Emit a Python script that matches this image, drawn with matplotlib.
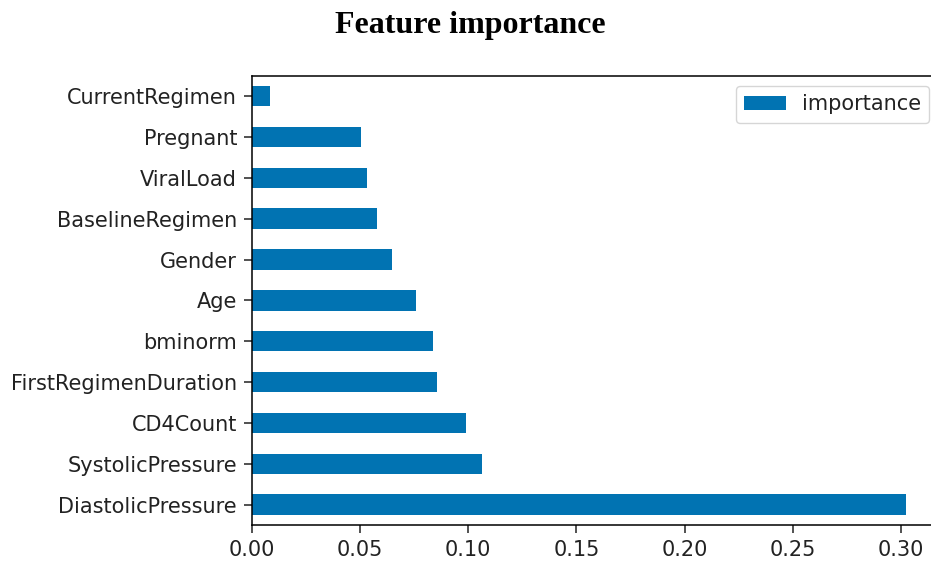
import numpy as np
import pandas as pd
import matplotlib
matplotlib.use('Agg')
import matplotlib.pyplot as plt

features = ['DiastolicPressure', 'SystolicPressure', 'CD4Count', 'FirstRegimenDuration',
            'bminorm', 'Age', 'Gender', 'BaselineRegimen', 'ViralLoad', 'Pregnant',
            'CurrentRegimen']
importance = [0.3024, 0.1066, 0.0989, 0.0857, 0.0837, 0.0761, 0.0647, 0.0581,
              0.0533, 0.0505, 0.0086]

df = pd.DataFrame({'importance': importance}, index=features)

s = 15.0  # font size in pt
plt.rcParams.update({
    'font.size': s,
    'axes.linewidth': 1.1,
    'xtick.major.size': 5.6,
    'ytick.major.size': 5.6,
    'xtick.major.width': 1.1,
    'ytick.major.width': 1.1,
    'xtick.major.pad': 5,
    'ytick.major.pad': 5,
    'text.color': '#222222',
    'xtick.color': '#222222',
    'ytick.color': '#222222',
})

fig = plt.figure(figsize=(9.31, 5.62), dpi=100)
ax = fig.add_axes([0.2704, 0.0658, 0.738, 0.7995])
df.plot(kind='barh', ax=ax, color='#0173B2', width=0.5)
ax.set_xlim(0, 0.3175)
ticks = np.arange(0, 0.31, 0.05)
ax.set_xticks(ticks)
ax.set_xticklabels(['%.2f' % t for t in ticks])
ax.legend(loc='upper right', bbox_to_anchor=(0.9857, 0.977), borderaxespad=0,
          fontsize=s, handlelength=2.0, borderpad=0.4, handletextpad=0.75)

fig.text(0.505, 0.955, 'Feature importance', ha='center', va='center',
         family='Liberation Serif', weight='bold', fontsize=23, color='black')

fig.savefig('out.png', dpi=100)
